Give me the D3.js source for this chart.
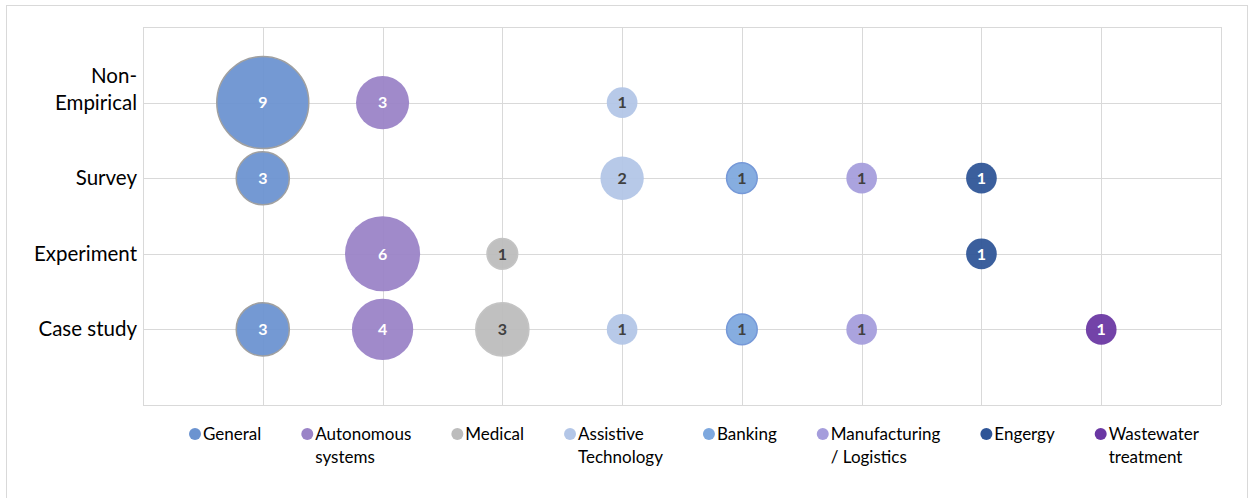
<!DOCTYPE html>
<html>
<head>
<meta charset="utf-8">
<script src="https://cdn.jsdelivr.net/npm/d3@7/dist/d3.min.js"></script>
<style>
  html, body { margin: 0; padding: 0; background: #fff; }
  svg { display: block; font-family: Lato, "Open Sans", sans-serif; }
</style>
</head>
<body>
<svg id="chart" width="1256" height="498"></svg>
<script>
// ---- data ----
const methods = ["Case study", "Experiment", "Survey", "Non-Empirical"];
const categories = ["General", "Autonomous systems", "Medical", "Assistive Technology",
                    "Banking", "Manufacturing / Logistics", "Engergy", "Wastewater treatment"];
// counts per method, in the order of `methods`
const general       = [3, null, 3, 9];
const autonomous    = [4, 6, null, 3];
const medical       = [3, 1, null, null];
const assistive     = [1, null, 2, 1];
const banking       = [1, null, 1, null];
const manufacturing = [1, null, 1, null];
const energy        = [null, 1, 1, null];
const wastewater    = [1, null, null, null];
const seriesValues = [general, autonomous, medical, assistive, banking, manufacturing, energy, wastewater];

const colors      = ["#6b93d0", "#9a83c7", "#bcbcbc", "#b3c6e7", "#7ea8de", "#a59ddc", "#2f5597", "#6a37a3"];
const strokes     = ["#a0a0a0", "none", "#c4c4c4", "none", "#7699d8", "none", "none", "none"];
const labelColors = ["#ffffff", "#ffffff", "#404040", "#404040", "#404040", "#404040", "#ffffff", "#ffffff"];

// ---- layout ----
const svg = d3.select("#chart");
const plot = { left: 143, right: 1221, top: 27, bottom: 405 };

// outer chart border
svg.append("rect")
  .attr("x", 6.5).attr("y", 5.5).attr("width", 1241).attr("height", 520)
  .attr("fill", "none").attr("stroke", "#d9d9d9").attr("stroke-width", 1);

const x = d3.scaleLinear().domain([0, categories.length + 1]).range([plot.left, plot.right]);
const y = d3.scaleLinear().domain([0, methods.length + 1]).range([plot.bottom, plot.top]);
const r = d3.scaleSqrt().domain([0, 9]).range([0, 46]);

// gridlines
const g = svg.append("g");
g.selectAll("line.v").data(d3.range(0, categories.length + 2)).join("line")
  .attr("x1", d => Math.round(x(d)) + 0.5).attr("x2", d => Math.round(x(d)) + 0.5)
  .attr("y1", plot.top).attr("y2", plot.bottom)
  .attr("stroke", "#d9d9d9").attr("stroke-width", 1);
g.selectAll("line.h").data(d3.range(0, methods.length + 2)).join("line")
  .attr("y1", d => Math.round(y(d)) + 0.5).attr("y2", d => Math.round(y(d)) + 0.5)
  .attr("x1", plot.left).attr("x2", plot.right)
  .attr("stroke", "#d9d9d9").attr("stroke-width", 1);

// y axis labels
const yAxis = d3.axisLeft(y)
  .tickValues(d3.range(1, methods.length + 1))
  .tickFormat(d => methods[d - 1])
  .tickSize(0).tickPadding(6);
const ya = svg.append("g").attr("transform", `translate(${plot.left},0)`).call(yAxis);
ya.select(".domain").remove();
ya.selectAll("text")
  .attr("font-family", "Lato, sans-serif")
  .attr("font-size", 20.5).attr("fill", "#000")
  .each(function(d) {
    const label = methods[d - 1];
    const parts = label.split(/(?<=-)/);
    if (parts.length > 1) {
      const t = d3.select(this);
      t.text(null);
      parts.forEach((p, i) => {
        t.append("tspan").attr("x", -6)
          .attr("dy", i === 0 ? `${-(parts.length - 1) * 1.3 + 0.32}em` : "1.3em")
          .text(p);
      });
      t.attr("dy", null);
    }
  });

// bubbles
const points = [];
seriesValues.forEach((vals, si) => {
  vals.forEach((v, mi) => {
    if (v != null) points.push({ si, mi, v });
  });
});
const bubbles = svg.append("g");
bubbles.selectAll("circle").data(points).join("circle")
  .attr("cx", d => x(d.si + 1))
  .attr("cy", d => y(d.mi + 1))
  .attr("r", d => r(d.v))
  .attr("fill", d => colors[d.si])
  .attr("fill-opacity", 0.94)
  .attr("stroke", d => strokes[d.si])
  .attr("stroke-width", 1.5);
bubbles.selectAll("text").data(points).join("text")
  .attr("x", d => x(d.si + 1))
  .attr("y", d => y(d.mi + 1))
  .attr("dy", "0.36em")
  .attr("text-anchor", "middle")
  .attr("font-size", 16).attr("font-weight", 700)
  .attr("fill", d => labelColors[d.si])
  .text(d => d.v);

// legend
const legend = svg.append("g");
let cursor = 189;
categories.forEach((name, i) => {
  const idx = name.indexOf(" ");
  const lines = idx > 0 ? [name.slice(0, idx), name.slice(idx + 1)] : [name];
  const item = legend.append("g");
  item.append("circle").attr("cx", cursor + 6).attr("cy", 434).attr("r", 6)
    .attr("fill", colors[i]);
  const t = item.append("text").attr("font-size", 17).attr("fill", "#000");
  lines.forEach((ln, li) => {
    t.append("tspan").attr("x", cursor + 14).attr("y", 440 + li * 23).text(ln);
  });
  let w = 0;
  t.selectAll("tspan").each(function() { w = Math.max(w, this.getComputedTextLength()); });
  cursor += 14 + w + 40;
});
</script>
</body>
</html>
